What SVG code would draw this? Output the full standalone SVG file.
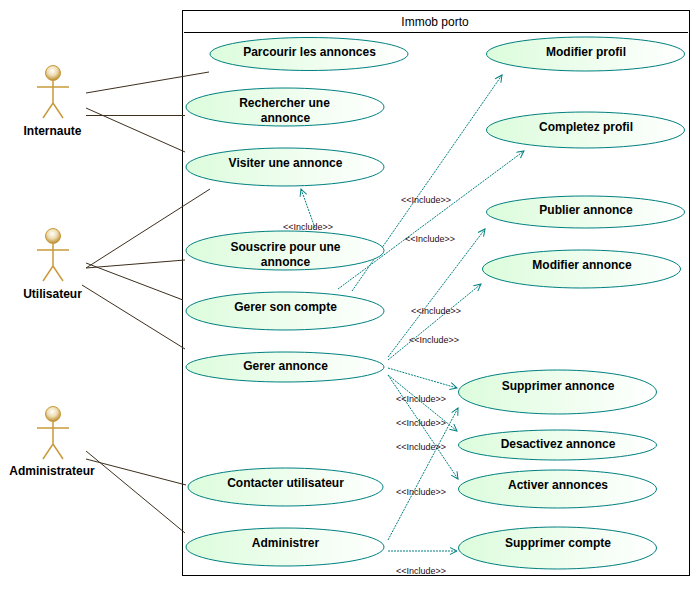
<svg xmlns="http://www.w3.org/2000/svg" width="700" height="597" viewBox="0 0 700 597">
<style>
text{font-family:"Liberation Sans",Arial,sans-serif;text-anchor:middle;fill:#000}
.uc ellipse{fill:url(#ucg);stroke:#008080;stroke-width:1}
.uc text,.ac text{font-size:12px;font-weight:bold}
.uc text{transform:translateX(0.5px)}
.a{stroke:#3c2f1c;stroke-width:1;fill:none}
.i{stroke:#008080;stroke-width:1;fill:none;stroke-dasharray:2 1;marker-end:url(#arr)}
.l{font-size:9px;fill:#2a0a20}
.f{stroke:#c99a3a;stroke-width:1.500;fill:none}
</style>
<defs>
<linearGradient id="ucg" x1="0" x2="1" y1="0" y2="0"><stop offset="0" stop-color="#dcfcdc"/><stop offset="1" stop-color="#ffffff"/></linearGradient>
<radialGradient id="hd" cx="0.45" cy="0.35" r="0.65"><stop offset="0" stop-color="#ffffff"/><stop offset="0.5" stop-color="#eedcb0"/><stop offset="1" stop-color="#b98a2e"/></radialGradient>
<marker id="arr" markerWidth="10" markerHeight="10" refX="8" refY="4" orient="auto" markerUnits="userSpaceOnUse"><path d="M1 0.500L8 4L1 7.500" fill="none" stroke="#008080" stroke-width="1"/></marker>
<g id="fig"><circle cx="0" cy="0" r="7.500" fill="url(#hd)" stroke="#c99a3a"/><path class="f" d="M0 7.500V30M-16 14H16M0 30L-10 45M0 30L10 45"/></g>
</defs>
<rect width="700" height="597" fill="#fff"/>
<g id="boundary"><rect x="182.500" y="10.500" width="507" height="565" fill="#fff" stroke="#000" stroke-width="1"/><path d="M184 32.500H688" stroke="#000"/><text x="435" y="26" font-size="12" fill="#222">Immob porto</text></g>
<g id="connectors">
<path class="a" d="M86 93L209 72M86 115.500H185M86 108L185 152M86 268L210 189M86 268L185 260M86 263L183 300M82 285L185 349M86 459L186 485M86 451L185 533"/>
<path class="i" d="M315 228L301 189"/><path class="i" d="M352 291L502 75"/><path class="i" d="M338 289L524 151"/><path class="i" d="M388 357L485 229"/><path class="i" d="M388 360L481 284"/><path class="i" d="M388 368L457 388"/><path class="i" d="M388 375L457 431"/><path class="i" d="M388 375L458 479"/><path class="i" d="M388 540L458 408"/><path class="i" d="M388 551H457"/>
<text class="l" x="308" y="230">&lt;&lt;Include&gt;&gt;</text><text class="l" x="426" y="203">&lt;&lt;Include&gt;&gt;</text><text class="l" x="430" y="242">&lt;&lt;Include&gt;&gt;</text><text class="l" x="436" y="314">&lt;&lt;Include&gt;&gt;</text><text class="l" x="434" y="343">&lt;&lt;Include&gt;&gt;</text><text class="l" x="421" y="402">&lt;&lt;Include&gt;&gt;</text><text class="l" x="421" y="426">&lt;&lt;Include&gt;&gt;</text><text class="l" x="421" y="450">&lt;&lt;Include&gt;&gt;</text><text class="l" x="421" y="495">&lt;&lt;Include&gt;&gt;</text><text class="l" x="421" y="574">&lt;&lt;Include&gt;&gt;</text>
</g>
<g id="a-internaute" class="ac"><use href="#fig" x="53" y="73"/><text x="52.500" y="135">Internaute</text></g>
<g id="a-utilisateur" class="ac"><use href="#fig" x="53" y="236"/><text x="52.500" y="298">Utilisateur</text></g>
<g id="a-administrateur" class="ac"><use href="#fig" x="53" y="414"/><text x="52" y="475">Administrateur</text></g>
<g id="u1" class="uc"><ellipse cx="309" cy="54" rx="99" ry="16.500"/><text x="309" y="56">Parcourir les annonces</text></g>
<g id="u2" class="uc"><ellipse cx="285" cy="107" rx="99" ry="19"/><text x="284" y="107">Rechercher une</text><text x="285" y="122">annonce</text></g>
<g id="u3" class="uc"><ellipse cx="285" cy="167" rx="99" ry="19"/><text x="285" y="167">Visiter une annonce</text></g>
<g id="u4" class="uc"><ellipse cx="285" cy="250.500" rx="99" ry="19.500"/><text x="285" y="251">Souscrire pour une</text><text x="285" y="266">annonce</text></g>
<g id="u5" class="uc"><ellipse cx="285" cy="311" rx="99" ry="19"/><text x="285" y="311">Gerer son compte</text></g>
<g id="u6" class="uc"><ellipse cx="285" cy="367" rx="99" ry="15"/><text x="285" y="370">Gerer annonce</text></g>
<g id="u7" class="uc"><ellipse cx="285.500" cy="487" rx="97.500" ry="19"/><text x="285" y="487">Contacter utilisateur</text></g>
<g id="u8" class="uc"><ellipse cx="285" cy="547" rx="99" ry="19"/><text x="285" y="547">Administrer</text></g>
<g id="u9" class="uc"><ellipse cx="585.500" cy="54" rx="99" ry="17"/><text x="585.500" y="56">Modifier profil</text></g>
<g id="u10" class="uc"><ellipse cx="585.500" cy="130" rx="99" ry="18"/><text x="585.500" y="131">Completez profil</text></g>
<g id="u11" class="uc"><ellipse cx="585.500" cy="212" rx="99" ry="16"/><text x="585.500" y="214">Publier annonce</text></g>
<g id="u12" class="uc"><ellipse cx="581.500" cy="269" rx="99" ry="19"/><text x="581.500" y="269">Modifier annonce</text></g>
<g id="u13" class="uc"><ellipse cx="557.500" cy="392" rx="99" ry="22"/><text x="557.500" y="390">Supprimer annonce</text></g>
<g id="u14" class="uc"><ellipse cx="557.500" cy="445" rx="99" ry="15"/><text x="557.500" y="448">Desactivez annonce</text></g>
<g id="u15" class="uc"><ellipse cx="557.500" cy="489" rx="99" ry="19"/><text x="557.500" y="489">Activer annonces</text></g>
<g id="u16" class="uc"><ellipse cx="557.500" cy="548" rx="99" ry="21"/><text x="557.500" y="547">Supprimer compte</text></g>
</svg>
